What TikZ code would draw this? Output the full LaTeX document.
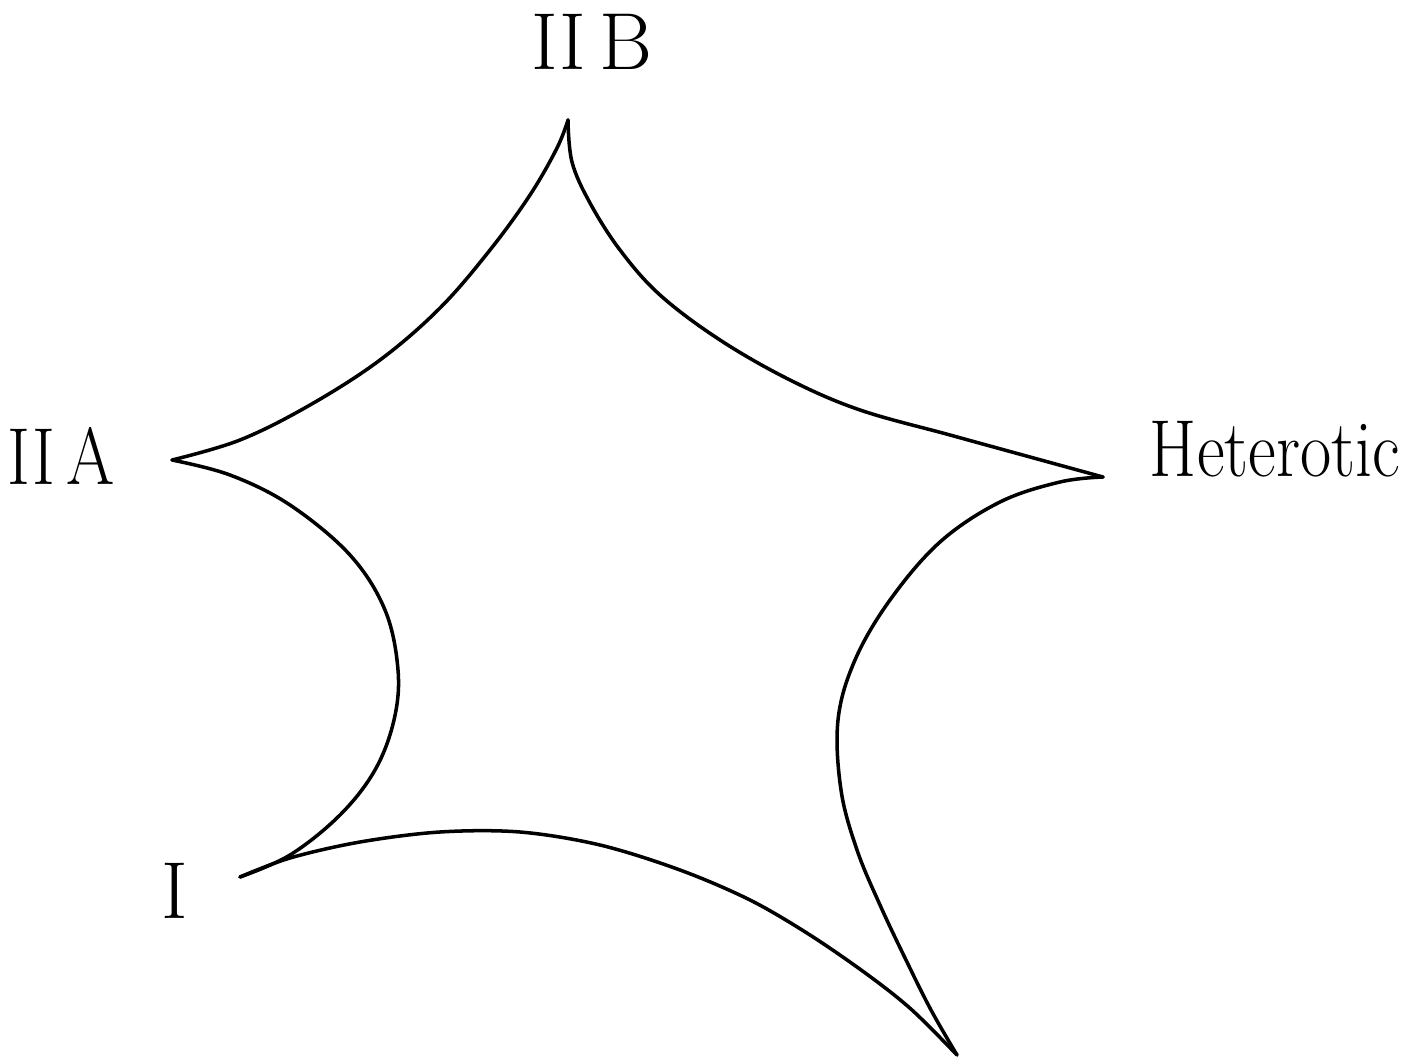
\documentclass[tikz,border=0pt]{standalone}
\begin{document}
\begin{tikzpicture}[x=0.01cm,y=-0.01cm,
  edge/.style={line width=1pt, line join=round, line cap=round},
  lbl/.style={font=\fontsize{23}{26}\selectfont, inner sep=0pt, anchor=base}]
\useasboundingbox (0,0) rectangle (1421,1061);
% cusps
\coordinate (top) at (568,120);
\coordinate (iia) at (172,460);
\coordinate (het) at (1103,477);
\coordinate (one) at (240,877);
\coordinate (bot) at (957,1055);
% labels
\node[lbl] (Ltop) at (592,70) {II\,B};
\node[lbl, xscale=0.86] (Liia) at (61,485) {II\,A};
\node[lbl, xscale=0.84] (Lhet) at (1275,477) {Heterotic};
\node[lbl] (Lone) at (175,918) {I};
% edges
\draw[edge] plot[smooth, tension=0.6] coordinates {(top) (557,148) (530,195) (490,250) (440,308) (380,360) (310,405) (240,440) (iia)};
\draw[edge] plot[smooth, tension=0.6] coordinates {(top) (572,162) (590,203) (620,250) (660,295) (720,340) (790,380) (860,410) (950,435) (1030,457) (het)};
\draw[edge] plot[smooth, tension=0.6] coordinates {(het) (1060,482) (1000,502) (940,542) (890,600) (855,660) (838,720) (841,790) (857,850) (880,905) (906,960) (931,1010) (bot)};
\draw[edge] plot[smooth, tension=0.6] coordinates {(iia) (230,475) (290,505) (350,555) (385,610) (398,670) (394,720) (375,770) (340,815) (290,855) (one)};
\draw[edge] plot[smooth, tension=0.55] coordinates {(one) (290,858) (360,842) (440,832) (520,832) (600,845) (680,870) (750,900) (810,935) (868,975) (912,1010) (bot)};
\end{tikzpicture}
\end{document}
